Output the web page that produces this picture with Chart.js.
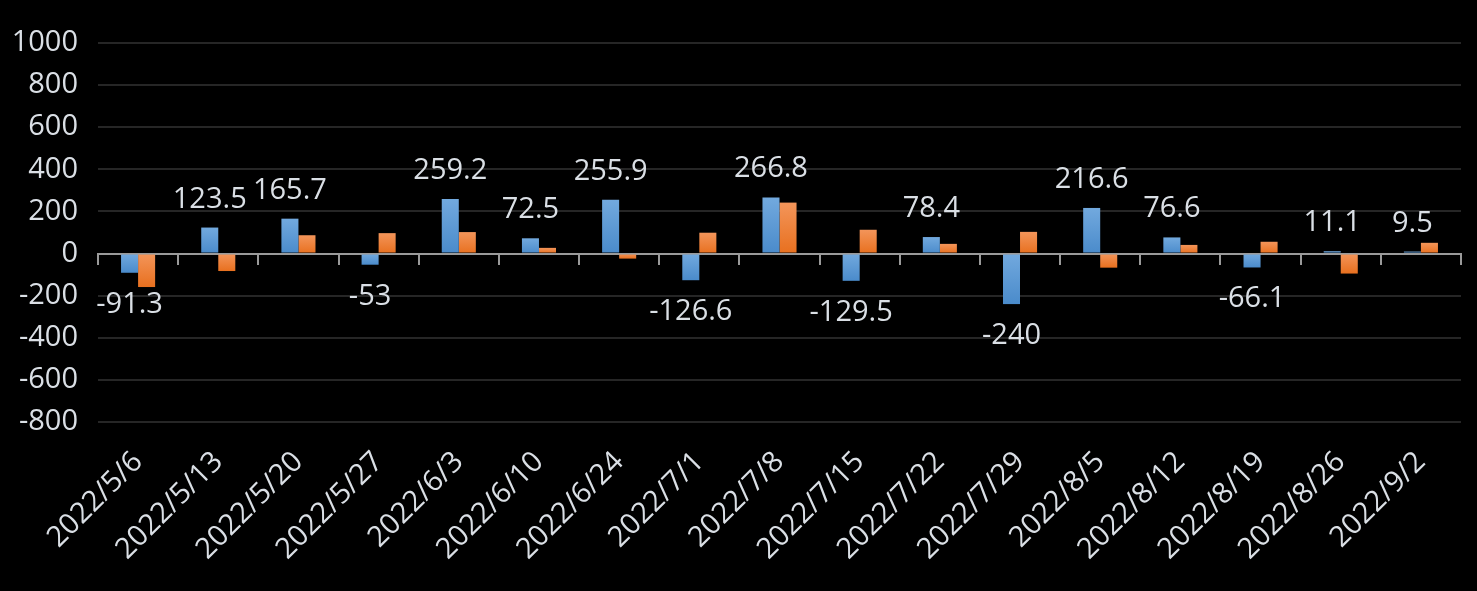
<!DOCTYPE html>
<html>
<head>
<meta charset="utf-8">
<script src="https://cdn.jsdelivr.net/npm/chart.js@4/dist/chart.umd.min.js"></script>
<style>
  html, body { margin: 0; padding: 0; background: #000; }
  #wrap { width: 1477px; height: 591px; position: relative; }
</style>
</head>
<body>
<div id="wrap"><canvas id="c"></canvas></div>
<script>
const categories = ['2022/5/6','2022/5/13','2022/5/20','2022/5/27','2022/6/3','2022/6/10','2022/6/24','2022/7/1','2022/7/8','2022/7/15','2022/7/22','2022/7/29','2022/8/5','2022/8/12','2022/8/19','2022/8/26','2022/9/2'];
const seriesBlue = [-91.3, 123.5, 165.7, -53, 259.2, 72.5, 255.9, -126.6, 266.8, -129.5, 78.4, -240, 216.6, 76.6, -66.1, 11.1, 9.5];
const seriesOrange = [-159, -83, 87, 97, 102, 27, -24, 99, 242, 113, 46, 103, -67, 41, 56, -95, 51];
const yMin = -800, yMax = 1000, yStep = 200;

const FONT = '"Open Sans", "Noto Sans", sans-serif';
const TEXT = '#dadfe5';
const FS = 29;

function barGradient(light, dark) {
  return function(ctx) {
    const chart = ctx.chart;
    const ys = chart.scales && chart.scales.y;
    if (!ys || ctx.raw === undefined || !chart.chartArea) return dark;
    const a = ys.getPixelForValue(ctx.raw), b = ys.getPixelForValue(0);
    const top = Math.min(a, b), bot = Math.max(a, b);
    if (!(bot - top > 1)) return dark;
    const g = chart.ctx.createLinearGradient(0, top, 0, bot);
    g.addColorStop(0, light);
    g.addColorStop(1, dark);
    return g;
  };
}

const labelPlugin = {
  id: 'valueLabels',
  afterDatasetsDraw(chart) {
    const meta = chart.getDatasetMeta(0);
    const ctx = chart.ctx;
    ctx.save();
    ctx.font = FS + 'px ' + FONT;
    ctx.fillStyle = TEXT;
    ctx.textAlign = 'center';
    ctx.textBaseline = 'alphabetic';
    meta.data.forEach((el, i) => {
      const v = seriesBlue[i];
      const txt = String(v);
      if (v >= 0) {
        ctx.fillText(txt, el.x, el.y - 20);
      } else {
        ctx.fillText(txt, el.x, el.y + 40);
      }
    });
    ctx.restore();
  }
};

new Chart(document.getElementById('c'), {
  type: 'bar',
  data: {
    labels: categories,
    datasets: [
      { label: 'A', data: seriesBlue, xAxisID: 'x', yAxisID: 'y',
        backgroundColor: barGradient('#72a9de', '#4a8bcb'), borderWidth: 0 },
      { label: 'B', data: seriesOrange, xAxisID: 'x', yAxisID: 'y',
        backgroundColor: barGradient('#f3955a', '#e8701f'), borderWidth: 0 }
    ]
  },
  options: {
    responsive: true,
    maintainAspectRatio: false,
    animation: false,
    categoryPercentage: 0.425,
    barPercentage: 1.0,
    layout: { padding: { left: 11, right: 16, top: 43, bottom: 0 } },
    plugins: { legend: { display: false }, tooltip: { enabled: false } },
    scales: {
      x: {
        type: 'category',
        offset: true,
        grid: { display: false },
        border: { display: false },
        ticks: {
          color: TEXT,
          font: { family: FONT, size: FS },
          maxRotation: 45, minRotation: 45,
          padding: 15,
          autoSkip: false
        },
        afterFit: (s) => { s.height = 169; s.paddingLeft = 0; }
      },
      x2: {
        type: 'category',
        offset: true,
        position: { y: 0 },
        grid: { display: true, drawOnChartArea: false, drawTicks: true, tickLength: 10, offset: true, color: '#9a9a9a', lineWidth: 2 },
        border: { display: true, color: '#9a9a9a', width: 2 },
        ticks: { display: false }
      },
      y: {
        min: yMin, max: yMax,
        ticks: {
          stepSize: yStep,
          color: TEXT,
          font: { family: FONT, size: FS },
          padding: 20,
          callback: (v) => String(v)
        },
        grid: { color: '#262626', lineWidth: 2, drawTicks: false },
        border: { display: false },
        afterFit: (s) => { s.width = 87; }
      }
    }
  },
  plugins: [labelPlugin]
});
</script>
</body>
</html>
